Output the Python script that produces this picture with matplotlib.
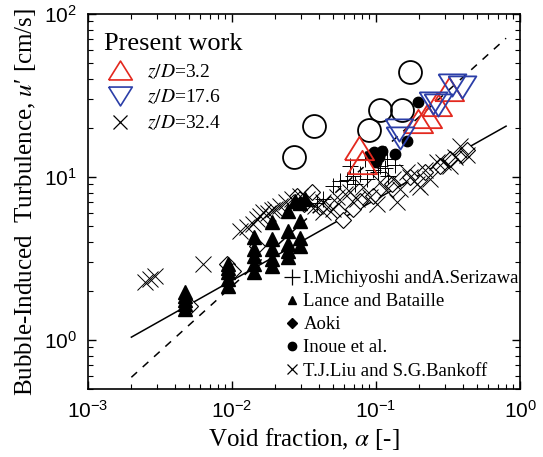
import matplotlib
matplotlib.use('Agg')
import matplotlib.pyplot as plt
from matplotlib.lines import Line2D

plt.rcParams['font.family'] = ['Liberation Sans', 'DejaVu Sans']
plt.rcParams['mathtext.fontset'] = 'stix'

# present work
circ_x = [0.0271, 0.0371, 0.0893, 0.107, 0.151, 0.172]
circ_y = [13.2, 20.5, 19.4, 25.9, 25.9, 44.2]
red_x = [0.0762, 0.080, 0.196, 0.226, 0.265, 0.321]
red_y = [15.1, 12.3, 22.2, 23.6, 28.2, 34.8]
blue_x = [0.145, 0.147, 0.249, 0.270, 0.337, 0.395]
blue_y = [19.5, 17.4, 28.6, 27.7, 36.8, 35.7]

# literature data
lance_x = [0.0047]*5 + [0.0094]*5 + [0.0141]*5 + [0.0189]*5 + [0.0246]*5 + [0.0296]*4 + [0.0274, 0.0321]
lance_y = [1.97, 1.85, 1.75, 1.65, 1.55,
           2.92, 2.75, 2.6, 2.36, 2.14,
           4.27, 3.61, 3.28, 2.92, 2.6,
           5.27, 4.15, 3.61, 3.13, 2.85,
           6.18, 4.67, 3.87, 3.52, 3.21,
           6.95, 5.37, 4.25, 3.78,
           7.1, 7.3]
aoki_x = [0.00511, 0.00923, 0.01017, 0.0149, 0.0282, 0.0316, 0.0360, 0.0409, 0.048, 0.0545,
          0.059, 0.0692, 0.0775, 0.0953, 0.129, 0.172, 0.219, 0.278, 0.327, 0.395, 0.428]
aoki_y = [1.61, 2.92, 2.64, 3.76, 7.6, 6.79, 8.03, 6.5, 6.79, 6.15,
          5.42, 6.32, 7.08, 7.6, 9.0, 9.93, 10.8, 11.6, 12.8, 13.7, 14.7]
inoue_x = [0.196, 0.164, 0.1355, 0.110, 0.0968, 0.100, 0.0908, 0.105]
inoue_y = [29.0, 16.7, 13.9, 14.5, 14.3, 12.3, 13.7, 13.2]
michi_x = [0.0389, 0.0428, 0.0503, 0.0562, 0.063, 0.066, 0.0692, 0.0775, 0.0866, 0.0953,
           0.103, 0.1067, 0.1154, 0.119, 0.121, 0.1355, 0.0715, 0.084]
michi_y = [6.88, 7.28, 8.75, 9.38, 9.52, 11.6, 10.07, 10.5, 9.66, 11.1,
           10.7, 11.7, 11.4, 12.8, 10.07, 11.9, 9.0, 12.8]
liu_x = [0.00249, 0.0027, 0.00292, 0.0063, 0.01137, 0.0127, 0.0140, 0.0149, 0.0156, 0.0164,
         0.0178, 0.0190, 0.0199, 0.0216, 0.0237, 0.0261, 0.0297, 0.0332, 0.0377, 0.0428,
         0.0428, 0.0503, 0.0536, 0.061, 0.066, 0.0738, 0.0813, 0.0908, 0.1016, 0.1067,
         0.117, 0.131, 0.140, 0.147, 0.164, 0.172, 0.193, 0.202, 0.219, 0.237,
         0.265, 0.292, 0.327, 0.354, 0.383, 0.428]
liu_y = [2.26, 2.36, 2.46, 2.92, 4.64, 4.91, 5.12, 5.49, 5.72, 6.06,
         5.98, 6.24, 6.33, 6.60, 6.98, 7.28, 7.60, 7.28, 6.60, 6.06,
         7.07, 6.33, 7.50, 7.82, 8.04, 7.28, 8.63, 7.50, 6.79, 9.25,
         8.26, 9.66, 7.07, 8.39, 10.7, 9.93, 9.0, 8.63, 11.1, 9.66,
         12.3, 12.4, 11.6, 13.2, 15.4, 13.7]

# correlation lines (end points)
line_x = [0.002, 0.8]
solid_y = [1.04, 20.5]
dash_y = [0.59, 71.0]

red = '#e3281e'
blue = '#2b3ea8'
tri_up = [(-1, -0.8), (1, -0.8), (0, 0.8), (-1, -0.8)]
tri_dn = [(-1, 0.8), (1, 0.8), (0, -0.8), (-1, 0.8)]

fig = plt.figure(figsize=(5.43, 4.57), dpi=100)
ax = fig.add_axes([0.1621, 0.1488, 0.7956, 0.8206])

ax.plot(line_x, solid_y, color='black', lw=1.1)
ax.plot(line_x, dash_y, color='black', lw=1.1, ls=(0, (5, 5)))

ax.plot(aoki_x, aoki_y, ls='none', marker='D', ms=8, mfc='white', mec='black', mew=0.8)
ax.plot(liu_x, liu_y, ls='none', marker='x', ms=11, color='black', mew=0.7)
ax.plot(michi_x, michi_y, ls='none', marker='+', ms=11, color='black', mew=0.7)
ax.plot(lance_x, lance_y, ls='none', marker='^', ms=10, color='black')
ax.plot(inoue_x, inoue_y, ls='none', marker='o', ms=7.5, color='black')

ax.plot(circ_x, circ_y, ls='none', marker='o', ms=16.5, mfc='none', mec='black', mew=1.3)
ax.plot(red_x, red_y, ls='none', marker=tri_up, ms=21, mfc='none', mec=red, mew=1.3)
ax.plot(blue_x, blue_y, ls='none', marker=tri_dn, ms=20, mfc='none', mec=blue, mew=1.3)

ax.set_xscale('log')
ax.set_yscale('log')
ax.set_xlim(1e-3, 1e0)
ax.set_ylim(0.5, 100)

ax.tick_params(which='both', direction='in', top=True, right=True, labelsize=15)
ax.tick_params(which='major', length=6, width=1, pad=8)
ax.tick_params(which='minor', length=3.5, width=0.8)
for s in ax.spines.values():
    s.set_linewidth(1.2)

serif = ['Liberation Serif', 'DejaVu Serif']
ax.set_xlabel(r'Void fraction, $\alpha$ [-]', fontsize=18, family=serif, labelpad=3)
ax.set_ylabel("Bubble-Induced  Turbulence, $u$\u2032 [cm/s]", fontsize=18, family=serif, labelpad=4)

# legend 1
h1 = [Line2D([], [], ls='none', marker=tri_up, ms=17, mfc='none', mec=red, mew=1.2),
      Line2D([], [], ls='none', marker=tri_dn, ms=17, mfc='none', mec=blue, mew=1.2),
      Line2D([], [], ls='none', marker='x', ms=10, color='black', mew=0.9)]
l1 = ax.legend(h1, ['$z/D$=3.2', '$z/D$=17.6', '$z/D$=32.4'], title='Present work',
               loc='upper left', bbox_to_anchor=(0.02, 0.97), frameon=False,
               prop={'family': serif, 'size': 14}, title_fontproperties={'family': serif, 'size': 19},
               alignment='left', handlelength=1.6, handletextpad=0.6, labelspacing=0.38,
               borderaxespad=0)
ax.add_artist(l1)

# legend 2
h2 = [Line2D([], [], ls='none', marker='+', ms=11, color='black', mew=0.9),
      Line2D([], [], ls='none', marker='^', ms=6, color='black'),
      Line2D([], [], ls='none', marker='D', ms=5, color='black'),
      Line2D([], [], ls='none', marker='o', ms=6, color='black'),
      Line2D([], [], ls='none', marker='x', ms=7, color='black', mew=0.9)]
ax.legend(h2, ['I.Michiyoshi andA.Serizawa', 'Lance and Bataille', 'Aoki', 'Inoue et al.',
               'T.J.Liu and S.G.Bankoff'],
          loc='lower left', bbox_to_anchor=(0.44, 0.005), frameon=False,
          prop={'family': serif, 'size': 13.5}, handlelength=0.7, handletextpad=0.25,
          labelspacing=0.32, borderaxespad=0)

fig.savefig('out.png', dpi=100)
